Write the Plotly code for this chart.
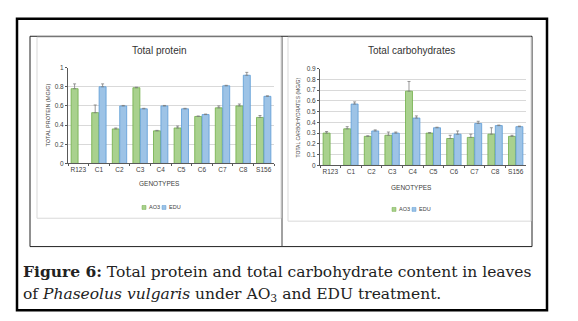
import plotly.graph_objects as go

W, H = 578, 321

genotypes = ["R123", "C1", "C2", "C3", "C4", "C5", "C6", "C7", "C8", "S156"]

protein_ao3 = [0.78, 0.53, 0.36, 0.79, 0.34, 0.37, 0.49, 0.58, 0.60, 0.48]
protein_ao3_err = [0.05, 0.08, 0.01, 0.005, 0.005, 0.02, 0.005, 0.02, 0.02, 0.02]
protein_edu = [None, 0.80, 0.60, 0.57, 0.60, 0.57, 0.51, 0.81, 0.92, 0.70]
protein_edu_err = [0, 0.03, 0.005, 0.005, 0.005, 0.005, 0.005, 0.005, 0.03, 0.005]

carb_ao3 = [0.30, 0.34, 0.27, 0.28, 0.69, 0.30, 0.25, 0.26, 0.29, 0.27]
carb_ao3_err = [0.015, 0.02, 0.005, 0.03, 0.09, 0.005, 0.03, 0.03, 0.06, 0.01]
carb_edu = [None, 0.57, 0.32, 0.30, 0.44, 0.35, 0.29, 0.39, 0.37, 0.36]
carb_edu_err = [0, 0.02, 0.01, 0.01, 0.02, 0.005, 0.03, 0.02, 0.005, 0.005]

protein_ticks = [0, 0.2, 0.4, 0.6, 0.8, 1]
carb_ticks = [0, 0.1, 0.2, 0.3, 0.4, 0.5, 0.6, 0.7, 0.8, 0.9]

GREEN = "#A9D18E"
GREEN_E = "#70AD47"
BLUE = "#9DC3E6"
BLUE_E = "#5B9BD5"
FONT = "Liberation Sans Narrow, Liberation Sans, Arial"

def px(x):
    return x / W

def py(y):
    return 1 - y / H

fig = go.Figure()

def add_bars(vals, errs, name, color, edge, xa, ya):
    fig.add_trace(go.Bar(
        x=genotypes, y=vals, name=name, xaxis=xa, yaxis=ya,
        marker=dict(color=color, line=dict(color=edge, width=0.8)),
        error_y=dict(type="data", array=errs, symmetric=False, arrayminus=[0]*len(errs),
                     color="#7f7f7f", thickness=0.8, width=1.5),
        showlegend=False, hoverinfo="skip",
    ))

add_bars(protein_ao3, protein_ao3_err, "AO3", GREEN, GREEN_E, "x", "y")
add_bars(protein_edu, protein_edu_err, "EDU", BLUE, BLUE_E, "x", "y")
add_bars(carb_ao3, carb_ao3_err, "AO3", GREEN, GREEN_E, "x2", "y2")
add_bars(carb_edu, carb_edu_err, "EDU", BLUE, BLUE_E, "x2", "y2")

axis_common = dict(showline=True, linecolor="#595959", linewidth=1,
                   tickfont=dict(family=FONT, size=6.5, color="#404040"),
                   ticks="outside", ticklen=2, tickcolor="#595959")

fig.update_layout(
    width=W, height=H, margin=dict(l=0, r=0, t=0, b=0),
    paper_bgcolor="white", plot_bgcolor="white",
    barmode="group", bargap=0.28, bargroupgap=0.06,
    xaxis=dict(domain=[px(68), px(274)], anchor="y", tickson="boundaries", tickangle=0, **axis_common),
    yaxis=dict(domain=[py(163), py(65)], range=[0, 1.0], tickvals=protein_ticks,
               ticktext=["0", "0.2", "0.4", "0.6", "0.8", "1"],
               showgrid=True, gridcolor="#D9D9D9", gridwidth=0.8, zeroline=False,
               anchor="x", **axis_common),
    xaxis2=dict(domain=[px(320), px(526)], anchor="y2", tickson="boundaries", tickangle=0, **axis_common),
    yaxis2=dict(domain=[py(165), py(66)], range=[0, 0.9], tickvals=carb_ticks,
                ticktext=["0", "0.1", "0.2", "0.3", "0.4", "0.5", "0.6", "0.7", "0.8", "0.9"],
                showgrid=True, gridcolor="#D9D9D9", gridwidth=0.8, zeroline=False,
                anchor="x2", **axis_common),
)

shapes = []
shapes.append(dict(type="rect", xref="paper", yref="paper", x0=px(17), x1=px(547), y0=py(313), y1=py(15),
                   line=dict(color="black", width=2.5)))
shapes.append(dict(type="rect", xref="paper", yref="paper", x0=px(30), x1=px(532), y0=py(248), y1=py(33),
                   line=dict(color="#222", width=1)))
shapes.append(dict(type="line", xref="paper", yref="paper", x0=px(282), x1=px(282), y0=py(248), y1=py(33),
                   line=dict(color="#444", width=1)))
shapes.append(dict(type="rect", xref="paper", yref="paper", x0=px(37), x1=px(281), y0=py(219), y1=py(34),
                   line=dict(color="#D9D9D9", width=1)))
shapes.append(dict(type="rect", xref="paper", yref="paper", x0=px(288), x1=px(531), y0=py(222), y1=py(34),
                   line=dict(color="#D9D9D9", width=1)))
legend_pos = [(142, 208), (392, 210)]
for (cx, cy) in legend_pos:
    shapes.append(dict(type="rect", xref="paper", yref="paper", x0=px(cx), x1=px(cx + 4), y0=py(cy + 2), y1=py(cy - 2),
                       fillcolor=GREEN, line=dict(color=GREEN_E, width=0.5)))
    shapes.append(dict(type="rect", xref="paper", yref="paper", x0=px(cx + 20), x1=px(cx + 24), y0=py(cy + 2), y1=py(cy - 2),
                       fillcolor=BLUE, line=dict(color=BLUE_E, width=0.5)))
fig.update_layout(shapes=shapes)

ann = []
def txt(x, y, s, size=7, color="#404040", angle=0, family=FONT, xanchor="center"):
    ann.append(dict(x=px(x), y=py(y), xref="paper", yref="paper", text=s, showarrow=False,
                    font=dict(family=family, size=size, color=color), textangle=angle,
                    xanchor=xanchor, yanchor="middle"))

txt(159, 48, "Total protein", size=10, color="#333")
txt(411, 48, "Total carbohydrates", size=10, color="#333")
txt(159, 184, "GENOTYPES", size=6.5)
txt(411, 188, "GENOTYPES", size=6.5)
txt(48, 114, "TOTAL PROTEIN (MG/G)", size=5.5, angle=-90)
txt(298, 116, "TOTAL CARBOHYDRATES (MG/G)", size=5, angle=-90)
for (cx, cy) in legend_pos:
    txt(cx + 5, cy, "AO3", size=5.5, xanchor="left")
    txt(cx + 25, cy, "EDU", size=5.5, xanchor="left")

SERIF = "DejaVu Serif, Liberation Serif, serif"
txt(21, 273, "<b>Figure 6:</b> Total protein and total carbohydrate content in leaves",
    size=15.5, color="#222", family=SERIF, xanchor="left")
txt(21, 297, "of <i>Phaseolus vulgaris</i> under AO<sub>3</sub> and EDU treatment.",
    size=15.5, color="#222", family=SERIF, xanchor="left")
fig.update_layout(annotations=ann)

fig.write_html("out.html", config={"displayModeBar": False},
               post_script="document.body.style.margin='0';")
